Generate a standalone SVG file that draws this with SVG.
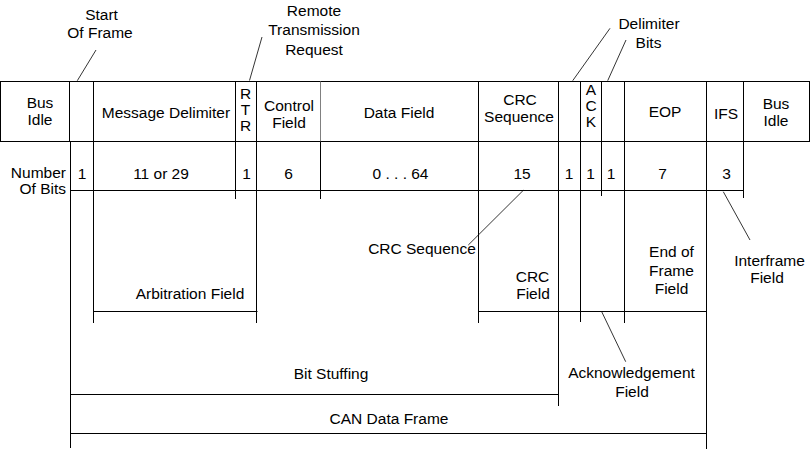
<svg xmlns="http://www.w3.org/2000/svg" width="811" height="450" viewBox="0 0 811 450">
<style>
  text { font-family: "Liberation Sans", Arial, sans-serif; font-size: 15.5px; fill: #000; text-anchor: middle; }
  .end { text-anchor: end; }
  .ln { stroke: #000; stroke-width: 1; fill: none; }
  .gray { stroke: #808080; stroke-width: 1; fill: none; }
  .ld { stroke: #000; stroke-width: 0.8; fill: none; }
</style>
<rect width="811" height="450" fill="#fff"/>

<!-- Header row -->
<g id="header-row">
  <rect class="ln" x="0.5" y="81.5" width="809" height="60"/>
  <path class="ln" d="M69.5 81.5V141.5 M93.5 81.5V141.5 M235.5 81.5V141.5 M256.5 81.5V141.5 M478.5 81.5V141.5 M558.5 81.5V141.5 M580.5 81.5V141.5 M601.5 81.5V141.5 M624.5 81.5V141.5 M706.5 81.5V141.5 M743.5 81.5V141.5"/>
  <path class="gray" d="M320.5 81.5V141.5"/>
</g>
<g id="bus-idle-left"><text x="40" y="108">Bus</text><text x="40" y="124.5">Idle</text></g>
<g id="message-delimiter"><text x="166" y="117.5">Message Delimiter</text></g>
<g id="rtr"><text x="245.5" y="99">R</text><text x="245.5" y="114.5">T</text><text x="245.5" y="130.5">R</text></g>
<g id="control-field"><text x="289" y="110.5">Control</text><text x="289" y="127.5">Field</text></g>
<g id="data-field"><text x="399" y="117.5">Data Field</text></g>
<g id="crc-sequence"><text x="520" y="105">CRC</text><text x="519" y="122">Sequence</text></g>
<g id="ack"><text x="591" y="95">A</text><text x="591" y="111">C</text><text x="591" y="127">K</text></g>
<g id="eop"><text x="665" y="116.5">EOP</text></g>
<g id="ifs"><text x="726" y="118.5">IFS</text></g>
<g id="bus-idle-right"><text x="776" y="109">Bus</text><text x="776" y="125.5">Idle</text></g>

<!-- Number of bits row -->
<g id="bits-row">
  <path class="ln" d="M70.5 190.5H743.5"/>
  <path class="ln" d="M70.5 141.5V448 M93.5 141.5V323 M235.5 141.5V199 M256.5 141.5V323 M320.5 141.5V199 M478.5 141.5V323 M558.5 141.5V406 M580.5 141.5V322 M601.5 141.5V196 M624.5 141.5V323 M706.5 141.5V449 M743.5 141.5V198"/>
  <text class="end" x="66" y="178">Number</text>
  <text class="end" x="66" y="194">Of Bits</text>
  <text x="82" y="178.5">1</text>
  <text x="161" y="178.5">11 or 29</text>
  <text x="246.5" y="178.5">1</text>
  <text x="288.5" y="178.5">6</text>
  <text x="400.5" y="178.5">0 . . . 64</text>
  <text x="522" y="178.5">15</text>
  <text x="569" y="178.5">1</text>
  <text x="590.5" y="178.5">1</text>
  <text x="611" y="178.5">1</text>
  <text x="662.5" y="178.5">7</text>
  <text x="726.5" y="178.5">3</text>
</g>

<!-- Field brackets -->
<g id="arbitration-field">
  <path class="ln" d="M93.5 311.5H257.5"/>
  <text x="190" y="299">Arbitration Field</text>
</g>
<g id="crc-field">
  <path class="ln" d="M478.5 311.5H706.5"/>
  <text x="532.5" y="282">CRC</text><text x="533" y="299">Field</text>
</g>
<g id="end-of-frame-field">
  <text x="671.5" y="257">End of</text><text x="671.5" y="275.5">Frame</text><text x="671.5" y="294">Field</text>
</g>
<g id="bit-stuffing">
  <path class="ln" d="M70.5 394.5H558.5"/>
  <text x="331" y="378.5">Bit Stuffing</text>
</g>
<g id="can-data-frame">
  <path class="ln" d="M70.5 433.5H706.5"/>
  <text x="389" y="424">CAN Data Frame</text>
</g>

<!-- Callout labels -->
<g id="start-of-frame"><text x="101.5" y="19.5">Start</text><text x="100" y="37.5">Of Frame</text></g>
<g id="remote-transmission-request"><text x="314" y="16">Remote</text><text x="314" y="35">Transmission</text><text x="314" y="54.5">Request</text></g>
<g id="delimiter-bits"><text x="649" y="29">Delimiter</text><text x="648.5" y="48">Bits</text></g>
<g id="crc-sequence-label"><text x="422" y="254">CRC Sequence</text></g>
<g id="interframe-field"><text x="769.5" y="265.5">Interframe</text><text x="767" y="283">Field</text></g>
<g id="acknowledgement-field"><text x="631.5" y="378">Acknowledgement</text><text x="632" y="396.5">Field</text></g>

<!-- Connectors (leader lines) -->
<g id="connectors">
  <path class="ld" d="M77.3 80.7L96 50"/>
  <path class="ld" d="M249.5 80.5L262 37"/>
  <path class="ld" d="M572.7 80.7L610 28.3"/>
  <path class="ld" d="M607.7 80.7L626 40"/>
  <path class="ld" d="M523.3 190.3L468.3 245"/>
  <path class="ld" d="M601.7 311.7L625.7 361.7"/>
  <path class="ld" d="M723.3 191.7L750 240"/>
</g>
</svg>
